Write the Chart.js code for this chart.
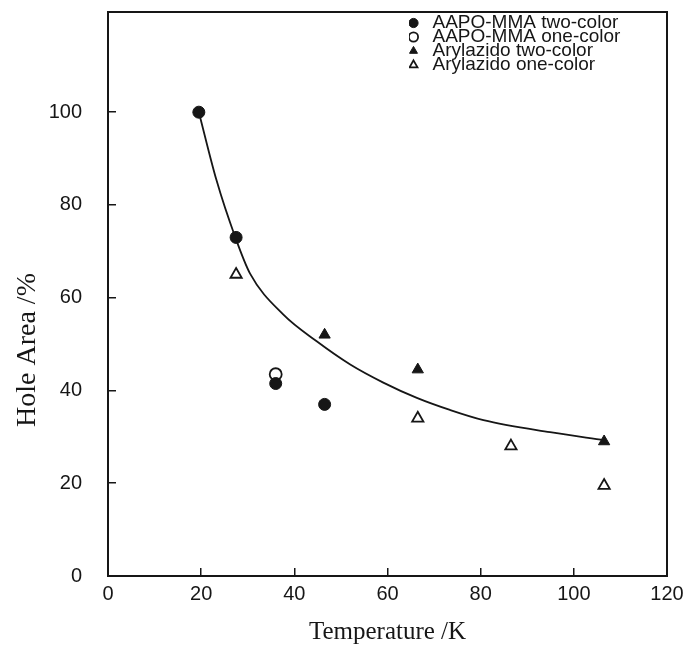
<!DOCTYPE html>
<html>
<head>
<meta charset="utf-8">
<script src="https://cdn.jsdelivr.net/npm/chart.js@4.4.1/dist/chart.umd.min.js"></script>
<style>
  html, body { margin: 0; padding: 0; background: #fff; }
  #wrap { width: 688px; height: 646px; }
</style>
</head>
<body>
<div id="wrap"><canvas id="chart"></canvas></div>
<script>
// values
const aapoTwoX = [19.5, 27.5, 36, 46.5];
const aapoTwoY = [100, 73, 41.5, 37];
const aapoOneX = [36];
const aapoOneY = [43.5];
const azoTwoX = [46.5, 66.5, 106.5];
const azoTwoY = [52, 44.5, 29];
const azoOneX = [27.5, 66.5, 86.5, 106.5];
const azoOneY = [65, 34, 28, 19.5];

// the drawn guide curve, traced point by point
const curveX = [19.5, 23.3, 27.3, 30.5, 37.6, 44.8, 52, 59.1, 66.3, 73.4, 80.6, 94.9, 106.5];
const curveY = [100, 85.3, 73.1, 65.2, 56.4, 50.6, 45.6, 41.7, 38.4, 35.8, 33.6, 31, 29.3];

const xTicks = [0, 20, 40, 60, 80, 100, 120];
const yTicks = [0, 20, 40, 60, 80, 100];

const ink = "#161616";

function pts(xs, ys) {
    return xs.map((x, i) => ({ x, y: ys[i] }));
}

// move the legend box into the upper right of the plot
const legendShift = {
    id: "legendShift",
    afterLayout(chart) {
        const lg = chart.legend;
        const w = lg.right - lg.left;
        lg.left = chart.chartArea.left + 301;
        lg.right = lg.left + w;
        lg.top = chart.chartArea.top - 0.7;
    }
};

new Chart(document.getElementById("chart"), {
    type: "scatter",
    data: {
        datasets: [
            {
                label: "AAPO-MMA two-color",
                data: pts(aapoTwoX, aapoTwoY),
                pointStyle: "circle",
                pointRadius: 6,
                backgroundColor: ink,
                borderColor: ink,
                borderWidth: 1
            },
            {
                label: "AAPO-MMA one-color",
                data: pts(aapoOneX, aapoOneY),
                pointStyle: "circle",
                pointRadius: 6,
                backgroundColor: "#fff",
                borderColor: ink,
                borderWidth: 1.8
            },
            {
                label: "Arylazido two-color",
                data: pts(azoTwoX, azoTwoY),
                pointStyle: "triangle",
                pointRadius: 6.5,
                backgroundColor: ink,
                borderColor: ink,
                borderWidth: 1
            },
            {
                label: "Arylazido one-color",
                data: pts(azoOneX, azoOneY),
                pointStyle: "triangle",
                pointRadius: 6.5,
                backgroundColor: "#fff",
                borderColor: ink,
                borderWidth: 1.8
            },
            {
                type: "line",
                label: "fit",
                data: pts(curveX, curveY),
                borderColor: ink,
                borderWidth: 1.8,
                pointRadius: 0,
                fill: false,
                cubicInterpolationMode: "monotone"
            }
        ]
    },
    options: {
        responsive: true,
        maintainAspectRatio: false,
        animation: false,
        layout: { padding: { left: 0, top: 12, right: 21, bottom: 0 } },
        scales: {
            x: {
                type: "linear",
                min: 0,
                max: 120,
                afterBuildTicks: (axis) => { axis.ticks = xTicks.map(v => ({ value: v })); },
                afterFit: (axis) => {
                    axis.height = 70;
                    axis.paddingLeft = 0;
                    axis.paddingRight = 0;
                },
                grid: { drawOnChartArea: false, tickLength: -8, color: ink, lineWidth: 1.5 },
                border: { color: ink, width: 2 },
                ticks: {
                    padding: 14,
                    color: ink,
                    maxRotation: 0,
                    font: { family: "Liberation Sans", size: 20 }
                },
                title: {
                    display: true,
                    text: "Temperature /K",
                    color: ink,
                    padding: { top: 4, bottom: -1 },
                    font: { family: "Liberation Serif", size: 25 }
                }
            },
            y: {
                type: "linear",
                min: 0,
                max: 121.6,
                afterBuildTicks: (axis) => { axis.ticks = yTicks.map(v => ({ value: v })); },
                afterFit: (axis) => {
                    axis.width = 108;
                    axis.paddingTop = 0;
                    axis.paddingBottom = 0;
                },
                grid: { drawOnChartArea: false, tickLength: -8, color: ink, lineWidth: 1.5 },
                border: { color: ink, width: 2 },
                ticks: {
                    padding: 34,
                    color: ink,
                    font: { family: "Liberation Sans", size: 20 }
                },
                title: {
                    display: true,
                    // trailing spaces push the visible words lower, as in the source
                    text: "Hole Area /%                ",
                    color: ink,
                    padding: { top: 11, bottom: 4 },
                    font: { family: "Liberation Serif", size: 28 }
                }
            },
            x2: {
                type: "linear",
                position: "top",
                min: 0,
                max: 120,
                grid: { display: false, drawTicks: false },
                ticks: { display: false },
                border: { color: ink, width: 2 }
            },
            y2: {
                type: "linear",
                position: "right",
                min: 0,
                max: 121.6,
                grid: { display: false, drawTicks: false },
                ticks: { display: false },
                border: { color: ink, width: 2 }
            }
        },
        plugins: {
            legend: {
                position: "chartArea",
                align: "start",
                // empty title only reserves a few pixels so row one is not clipped
                title: { display: true, text: " ", padding: 0, font: { size: 6 } },
                labels: {
                    usePointStyle: true,
                    boxWidth: 19,
                    boxHeight: 6.5,
                    padding: -5,
                    color: ink,
                    font: { family: "Liberation Sans", size: 19 },
                    filter: (item) => item.datasetIndex < 4
                }
            },
            tooltip: { enabled: false }
        }
    },
    plugins: [legendShift]
});
</script>
</body>
</html>
